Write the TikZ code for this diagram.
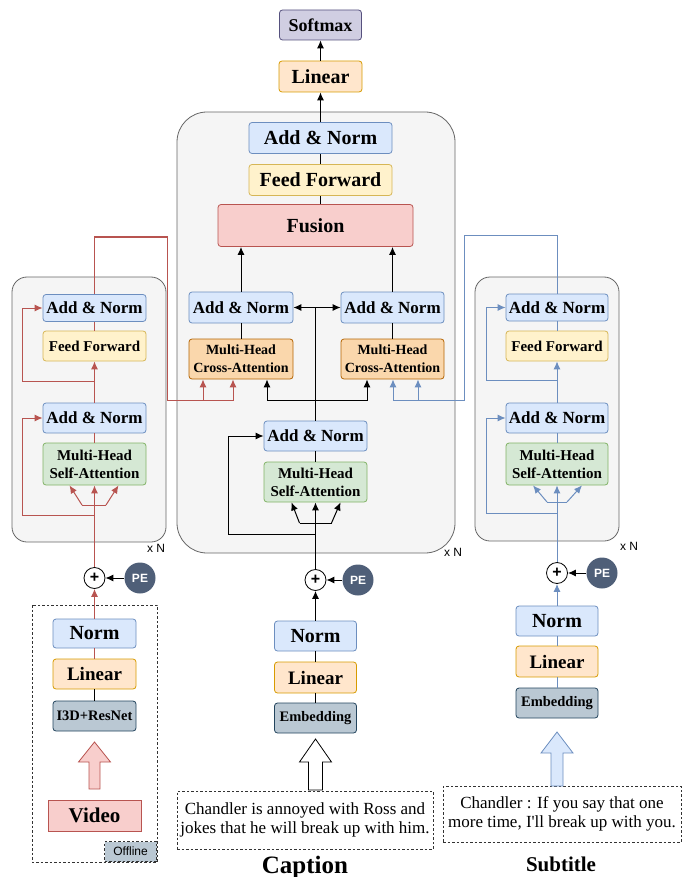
\documentclass[tikz,border=0pt]{standalone}
\usepackage{fontspec}
\setmainfont{Liberation Serif}
\setsansfont{Liberation Sans}
\newfontfamily\plainrm{Liberation Serif}[Ligatures=TeXOff]
\usepackage{xcolor}
\usetikzlibrary{arrows, arrows.meta}
\usetikzlibrary{calc, math}
\definecolor{anfill}{HTML}{DAE8FC}
\definecolor{anline}{HTML}{6C8EBF}
\definecolor{fffill}{HTML}{FFF2CC}
\definecolor{ffline}{HTML}{D6B656}
\definecolor{linfill}{HTML}{FFE6CC}
\definecolor{linline}{HTML}{D79B00}
\definecolor{safill}{HTML}{D5E8D4}
\definecolor{saline}{HTML}{82B366}
\definecolor{fusfill}{HTML}{F8CECC}
\definecolor{fusline}{HTML}{B85450}
\definecolor{cafill}{HTML}{FAD7AC}
\definecolor{caline}{HTML}{B46504}
\definecolor{embfill}{HTML}{BAC8D3}
\definecolor{embline}{HTML}{23445D}
\definecolor{smfill}{HTML}{D0CEE2}
\definecolor{smline}{HTML}{56517E}
\definecolor{pefill}{HTML}{4F5F78}
\definecolor{grpfill}{HTML}{F5F5F5}
\definecolor{grpline}{HTML}{666666}
\definecolor{myred}{HTML}{B85450}
\definecolor{myblue}{HTML}{6C8EBF}
\newcommand{\setfs}[2]{\fontsize{#1}{#2}\selectfont}

\begin{document}
\begin{tikzpicture}[x=1pt,y=-1pt,
  every node/.style={inner sep=0pt, align=center},
  fs/.style args={#1/#2}{font=\bfseries\setfs{#1}{#2}},
  box/.style={draw, rounded corners=3pt, line width=0.8pt},
  anbox/.style={box, fill=anfill, draw=anline},
  ffbox/.style={box, fill=fffill, draw=ffline},
  linbox/.style={box, fill=linfill, draw=linline},
  sabox/.style={box, fill=safill, draw=saline},
  cabox/.style={box, fill=cafill, draw=caline},
  fusbox/.style={box, fill=fusfill, draw=fusline},
  embbox/.style={box, fill=embfill, draw=embline},
  smbox/.style={box, fill=smfill, draw=smline},
  group/.style={draw=grpline, fill=grpfill, line width=0.8pt},
  dashbox/.style={draw=black!80, line width=0.8pt, dash pattern=on 2.5pt off 2pt},
  addop/.style={circle, draw, fill=white, line width=0.8pt, minimum size=21pt, font=\sffamily\bfseries\setfs{16}{16}},
  pe/.style={circle, fill=pefill, minimum size=31pt, text=white, font=\sffamily\bfseries\setfs{12}{14}},
  lbl/.style={font=\sffamily\setfs{12}{14}},
  conn/.style={line width=1pt},
  arr/.style={conn, -{Latex[length=8pt,width=7pt]}},
  redc/.style={conn, draw=myred},
  reda/.style={arr, draw=myred},
  bluec/.style={conn, draw=myblue},
  bluea/.style={arr, draw=myblue}]
\tikzmath{
\xl=94.5;% video column
\xc=315.5;% caption column
\xr=557;% subtitle column
\xd=320.5;% decoder top
}
\useasboundingbox (0,0) rectangle (682,877);

% groups
\draw[group, rounded corners=30] (177,112) rectangle (455,553);
\draw[group, rounded corners=15] (12,277) rectangle (166,542);
\draw[group, rounded corners=15] (475,277) rectangle (619,541);
\draw[dashbox] (32,605) rectangle (157,862);

% decoder
\node[smbox, fs=18/22, minimum width=82, minimum height=30] (softmax) at (\xd,25) {Softmax};
\node[linbox, fs=20/24, minimum width=83, minimum height=31] (linTop) at (\xd,76.5) {Linear};
\node[anbox, fs=20/24, minimum width=143, minimum height=31] (decAN) at (\xd,138) {Add \& Norm};
\node[ffbox, fs=20/24, minimum width=143, minimum height=31] (decFF) at (\xd,180) {Feed Forward};
\node[fusbox, fs=20/24, minimum width=195, minimum height=42] (fusion) at (315.5,225.5) {Fusion};
\node[anbox, fs=17/20, minimum width=104, minimum height=31] (anL) at (241,307.5) {Add \& Norm};
\node[anbox, fs=17/20, minimum width=103, minimum height=31] (anR) at (392.5,307.5) {Add \& Norm};
\node[cabox, fs=14/18, minimum width=104, minimum height=40] (caL) at (241,359) {Multi-Head\\Cross-Attention};
\node[cabox, fs=14/18, minimum width=103, minimum height=40] (caR) at (392.5,359) {Multi-Head\\Cross-Attention};

% caption encoder
\node[anbox, fs=17/20, minimum width=103, minimum height=30] (capAN) at (\xc,436) {Add \& Norm};
\node[sabox, fs=15/18, minimum width=103, minimum height=40] (capSA) at (\xc,482) {Multi-Head\\Self-Attention};
\node[addop] (capPlus) at (\xc,580) {+};
\node[pe] (capPE) at (358,580) {PE};
\node[anbox, fs=20/24, minimum width=82, minimum height=30] (capNorm) at (\xc,636) {Norm};
\node[linbox, fs=19/22, minimum width=82, minimum height=31] (capLin) at (\xc,677.5) {Linear};
\node[embbox, fs=14.5/17, minimum width=82, minimum height=30] (capEmb) at (\xc,718) {Embedding};
\node[dashbox, minimum width=256, minimum height=58, font=\setfs{17}{19.5}] (capTxt) at (305,820) {Chandler is annoyed with Ross and\\jokes that he will break up with him.};
\node[fs=25/28] (capLbl) at (305,867) {Caption};
\node[lbl] (capN) at (453,552) {x N};

% video encoder
\node[anbox, fs=17/20, minimum width=103, minimum height=27] (vAN1) at (\xl,308) {Add \& Norm};
\node[ffbox, fs=15/18, minimum width=103, minimum height=30] (vFF) at (\xl,346) {Feed Forward};
\node[anbox, fs=17/20, minimum width=103, minimum height=30] (vAN2) at (\xl,418) {Add \& Norm};
\node[sabox, fs=15/18, minimum width=103, minimum height=42] (vSA) at (\xl,464) {Multi-Head\\Self-Attention};
\node[addop] (vPlus) at (\xl,578) {+};
\node[pe] (vPE) at (140,578) {PE};
\node[anbox, fs=20/24, minimum width=83, minimum height=29] (vNorm) at (\xl,633.5) {Norm};
\node[linbox, fs=19/22, minimum width=83, minimum height=30] (vLin) at (\xl,674) {Linear};
\node[embbox, fs=14.5/17, minimum width=83, minimum height=30] (vI3D) at (\xl,716) {I3D+ResNet};
\node[fusbox, rounded corners=0, fs=21/24, minimum width=93, minimum height=31] (video) at (\xl,815.5) {Video};
\node[dashbox, fill=embfill, minimum width=52, minimum height=20, lbl, anchor=south east] (offline) at (157,862) {Offline};
\node[lbl] (vN) at (156,548) {x N};

% subtitle encoder
\node[anbox, fs=17/20, minimum width=102, minimum height=27] (sAN1) at (\xr,307.5) {Add \& Norm};
\node[ffbox, fs=15/18, minimum width=102, minimum height=30] (sFF) at (\xr,346) {Feed Forward};
\node[anbox, fs=17/20, minimum width=102, minimum height=30] (sAN2) at (\xr,418) {Add \& Norm};
\node[sabox, fs=15/18, minimum width=102, minimum height=42] (sSA) at (\xr,464) {Multi-Head\\Self-Attention};
\node[addop] (sPlus) at (\xr,573) {+};
\node[pe] (sPE) at (602,573) {PE};
\node[anbox, fs=20/24, minimum width=82, minimum height=30] (sNorm) at (\xr,621) {Norm};
\node[linbox, fs=19/22, minimum width=82, minimum height=31] (sLin) at (\xr,661.5) {Linear};
\node[embbox, fs=14.5/17, minimum width=82, minimum height=30] (sEmb) at (\xr,703) {Embedding};
\node[dashbox, minimum width=238, minimum height=56, font=\plainrm\setfs{17}{19.5}] (subTxt) at (562,814) {Chandler : If you say that one\\more time, I'll break up with you.};
\node[fs=21/24] (subLbl) at (561,864) {Subtitle};
\node[lbl] (sN) at (629,546) {x N};

% input arrows
\draw[draw=myred, fill=fusfill, line width=0.8pt] (\xl-5.5,789) -- (\xl-5.5,762) -- (\xl-16,762) -- (\xl,742) -- (\xl+16,762) -- (\xl+5.5,762) -- (\xl+5.5,789) -- cycle;
\draw[fill=white, line width=0.8pt] (\xc-7,790) -- (\xc-7,762) -- (\xc-16,762) -- (\xc,739) -- (\xc+16,762) -- (\xc+7,762) -- (\xc+7,790) -- cycle;
\draw[draw=myblue, fill=anfill, line width=0.8pt] (\xr-6,786) -- (\xr-6,753) -- (\xr-16,753) -- (\xr,732) -- (\xr+16,753) -- (\xr+6,753) -- (\xr+6,786) -- cycle;

% decoder connectors
\draw[arr] (linTop) -- (softmax);
\draw[arr] (decAN) -- (linTop);
\draw[conn] (decFF) -- (decAN);
\draw[conn] (fusion.north -| decFF) -- (decFF);
\draw[arr] (anL) -- (anL |- fusion.south);
\draw[arr] (anR) -- (anR |- fusion.south);
\draw[conn] (caL) -- (anL);
\draw[conn] (caR) -- (anR);

% caption connectors
\coordinate (cSplit) at (\xc,523);
\coordinate (cSplitL) at (\xc-16,523);
\coordinate (cSplitR) at (\xc+16,523);
\coordinate (cRes) at (\xc,534);
\coordinate (cResL) at (228,534);
\coordinate (cTop) at (\xc,307.5);
\coordinate (cBar) at (\xc,400);
\draw[conn] (capEmb) -- (capLin);
\draw[conn] (capLin) -- (capNorm);
\draw[arr] (capNorm) -- (capPlus);
\draw[arr] (capPE) -- (capPlus);
\draw[conn] (capPlus) -- (cSplit);
\draw[arr] (cSplit) -- (capSA);
\draw[conn] (cSplitL) -- (cSplitR);
\draw[arr] (cSplitL) -- ($(capSA.south)+(-24,0)$);
\draw[arr] (cSplitR) -- ($(capSA.south)+(25,0)$);
\draw[arr] (cRes) -- (cResL) |- (capAN);
\draw[conn] (capSA) -- (capAN);
\draw[conn] (capAN) -- (cTop);
\draw[arr] (cTop) -- (anL);
\draw[arr] (cTop) -- (anR);
\draw[arr] (cBar) -| ($(caL.south)+(26,0)$);
\draw[arr] (cBar) -| ($(caR.south)+(-25.5,0)$);

% video connectors
\coordinate (vSplit) at (\xl,505);
\coordinate (vSplitL) at (\xl-12.5,505);
\coordinate (vSplitR) at (\xl+11.5,505);
\coordinate (vRes2) at (\xl,515);
\coordinate (vRes2L) at (22,515);
\coordinate (vRes1) at (\xl,381);
\coordinate (vRes1L) at (22,381);
\coordinate (vTop) at (\xl,237);
\coordinate (vTurn) at (167,237);
\coordinate (vDrop) at (167,400);
\coordinate (vBarA) at (203,400);
\draw[conn] (vI3D) -- (vLin);
\draw[redc] (vLin) -- (vNorm);
\draw[reda] (vNorm) -- (vPlus);
\draw[arr] (vPE) -- (vPlus);
\draw[redc] (vPlus) -- (vSplit);
\draw[reda] (vSplit) -- (vSA);
\draw[redc] (vSplitL) -- (vSplitR);
\draw[reda] (vSplitL) -- ($(vSA.south)+(-25,0)$);
\draw[reda] (vSplitR) -- ($(vSA.south)+(24,0)$);
\draw[reda] (vRes2) -- (vRes2L) |- (vAN2);
\draw[redc] (vSA) -- (vAN2);
\draw[reda] (vAN2) -- (vFF);
\draw[reda] (vRes1) -- (vRes1L) |- (vAN1);
\draw[redc] (vFF) -- (vAN1);
\draw[reda] (vAN1) -- (vTop) -- (vTurn) -- (vDrop) -| ($(caL.south)+(-8,0)$);
\draw[reda] (vBarA) -- (vBarA |- caL.south);

% subtitle connectors
\coordinate (sSplit) at (\xr,502);
\coordinate (sSplitL) at (\xr-10,502);
\coordinate (sSplitR) at (\xr+10,502);
\coordinate (sRes2) at (\xr,513);
\coordinate (sRes2L) at (486,513);
\coordinate (sRes1) at (\xr,380);
\coordinate (sRes1L) at (486,380);
\coordinate (sTop) at (\xr,236);
\coordinate (sTurn) at (464,236);
\coordinate (sDrop) at (464,400);
\coordinate (sBarA) at (418,400);
\draw[bluec] (sEmb) -- (sLin);
\draw[bluec] (sLin) -- (sNorm);
\draw[bluea] (sNorm) -- (sPlus);
\draw[arr] (sPE) -- (sPlus);
\draw[bluec] (sPlus) -- (sSplit);
\draw[bluea] (sSplit) -- (sSA);
\draw[bluec] (sSplitL) -- (sSplitR);
\draw[bluea] (sSplitL) -- ($(sSA.south)+(-24,0)$);
\draw[bluea] (sSplitR) -- ($(sSA.south)+(25,0)$);
\draw[bluea] (sRes2) -- (sRes2L) |- (sAN2);
\draw[bluec] (sSA) -- (sAN2);
\draw[bluea] (sAN2) -- (sFF);
\draw[bluea] (sRes1) -- (sRes1L) |- (sAN1);
\draw[bluec] (sFF) -- (sAN1);
\draw[bluea] (sAN1) -- (sTop) -- (sTurn) -- (sDrop) -| ($(caR.south)+(0.5,0)$);
\draw[bluea] (sBarA) -- (sBarA |- caR.south);
\end{tikzpicture}
\end{document}
